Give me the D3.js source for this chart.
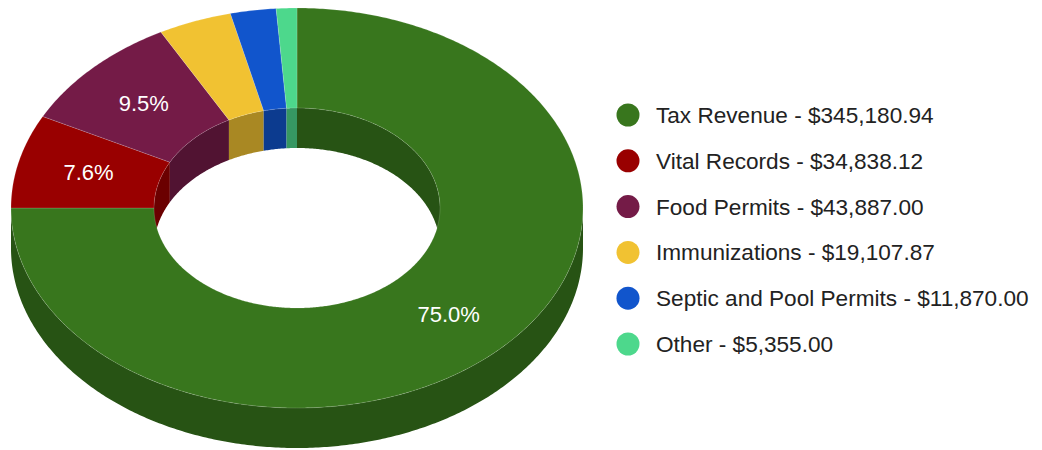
<!DOCTYPE html>
<html>
<head>
  <meta charset="utf-8">
  <title>Revenue donut</title>
  <script src="https://d3js.org/d3.v7.min.js"></script>
  <style>
    body { margin: 0; background: #fff; }
    text { font-family: Arial, "Liberation Sans", sans-serif; }
    .legend text { font-size: 22.6px; fill: #222; }
    .label { font-size: 22px; fill: #fff; text-anchor: middle; }
  </style>
</head>
<body>
<script>
  // Chart data.
  const categories = ["Tax Revenue", "Vital Records", "Food Permits", "Immunizations", "Septic and Pool Permits", "Other"];
  const values = [345180.94, 34838.12, 43887.00, 19107.87, 11870.00, 5355.00];
  const colors = ["#38761d", "#990000", "#741b47", "#f1c232", "#1155cc", "#4dd88c"];

  const width = 1042, height = 450;

  // Ellipse geometry of the tilted donut.
  const cx = 297, cy = 208, rx = 286, ry = 200, depth = 40, hole = 0.5;

  const svg = d3.select("body").append("svg")
      .attr("width", width)
      .attr("height", height);

  const total = d3.sum(values);
  const pie = d3.pie().sort(null).value(d => d.value);
  const slices = pie(categories.map((c, i) => ({ name: c, value: values[i], color: colors[i] })));

  // Point on the tilted ellipse, angle clockwise from 12 o'clock.
  function pt(a, f, dy) {
    return [cx + rx * f * Math.sin(a), cy - ry * f * Math.cos(a) + dy];
  }
  function arcPts(a0, a1, f, dy) {
    const n = Math.max(2, Math.ceil(Math.abs(a1 - a0) / 0.01));
    return d3.range(n + 1).map(i => pt(a0 + (a1 - a0) * i / n, f, dy));
  }
  const line = d3.line();

  function wallPath(a0, a1, f) {
    const pts = arcPts(a0, a1, f, 0).concat(arcPts(a1, a0, f, depth));
    return line(pts) + "Z";
  }
  function facePath(a0, a1) {
    const pts = arcPts(a0, a1, 1, 0).concat(arcPts(a1, a0, hole, 0));
    return line(pts) + "Z";
  }
  function clip(d, lo, hi) {
    const a = Math.max(d.startAngle, lo), b = Math.min(d.endAngle, hi);
    return a < b ? [a, b] : null;
  }
  const side = c => {
    const k = d3.rgb(c);
    return d3.rgb(k.r * 0.7, k.g * 0.7, k.b * 0.7).toString();
  };

  const g = svg.append("g");

  // Outer wall, front half only.
  slices.forEach(d => {
    const r = clip(d, Math.PI / 2, Math.PI * 1.5);
    if (r) g.append("path").attr("d", wallPath(r[0], r[1], 1)).attr("fill", side(d.data.color));
  });

  // Inner wall, far half seen through the hole.
  slices.forEach(d => {
    [[0, Math.PI / 2], [Math.PI * 1.5, Math.PI * 2]].forEach(rng => {
      const r = clip(d, rng[0], rng[1]);
      if (r) g.append("path").attr("d", wallPath(r[0], r[1], hole)).attr("fill", side(d.data.color));
    });
  });

  // Top faces.
  g.selectAll(".slice")
    .data(slices)
    .enter().append("path")
      .attr("class", "slice")
      .attr("d", d => facePath(d.startAngle, d.endAngle))
      .attr("fill", d => d.data.color)
      .attr("stroke", "#fff")
      .attr("stroke-opacity", 0.2)
      .attr("stroke-width", 0.8);

  // Percent labels.
  g.selectAll(".label")
    .data(slices.filter(d => d.value / total >= 0.05))
    .enter().append("text")
      .attr("class", "label")
      .attr("x", d => pt((d.startAngle + d.endAngle) / 2, (1 + hole) / 2, 0)[0])
      .attr("y", d => pt((d.startAngle + d.endAngle) / 2, (1 + hole) / 2, 0)[1])
      .attr("dy", "0.35em")
      .text(d => (d.value / total * 100).toFixed(1) + "%");

  // Legend.
  const fmt = d3.format("$,.2f");
  const legend = svg.append("g").attr("class", "legend");
  const row = legend.selectAll("g")
    .data(slices)
    .enter().append("g")
      .attr("transform", (d, i) => `translate(628,${115 + i * 45.8})`);
  row.append("circle").attr("r", 11.5).attr("fill", d => d.data.color);
  row.append("text")
    .attr("x", 28)
    .attr("dy", "0.35em")
    .text(d => d.data.name + " - " + fmt(d.data.value));
</script>
</body>
</html>
